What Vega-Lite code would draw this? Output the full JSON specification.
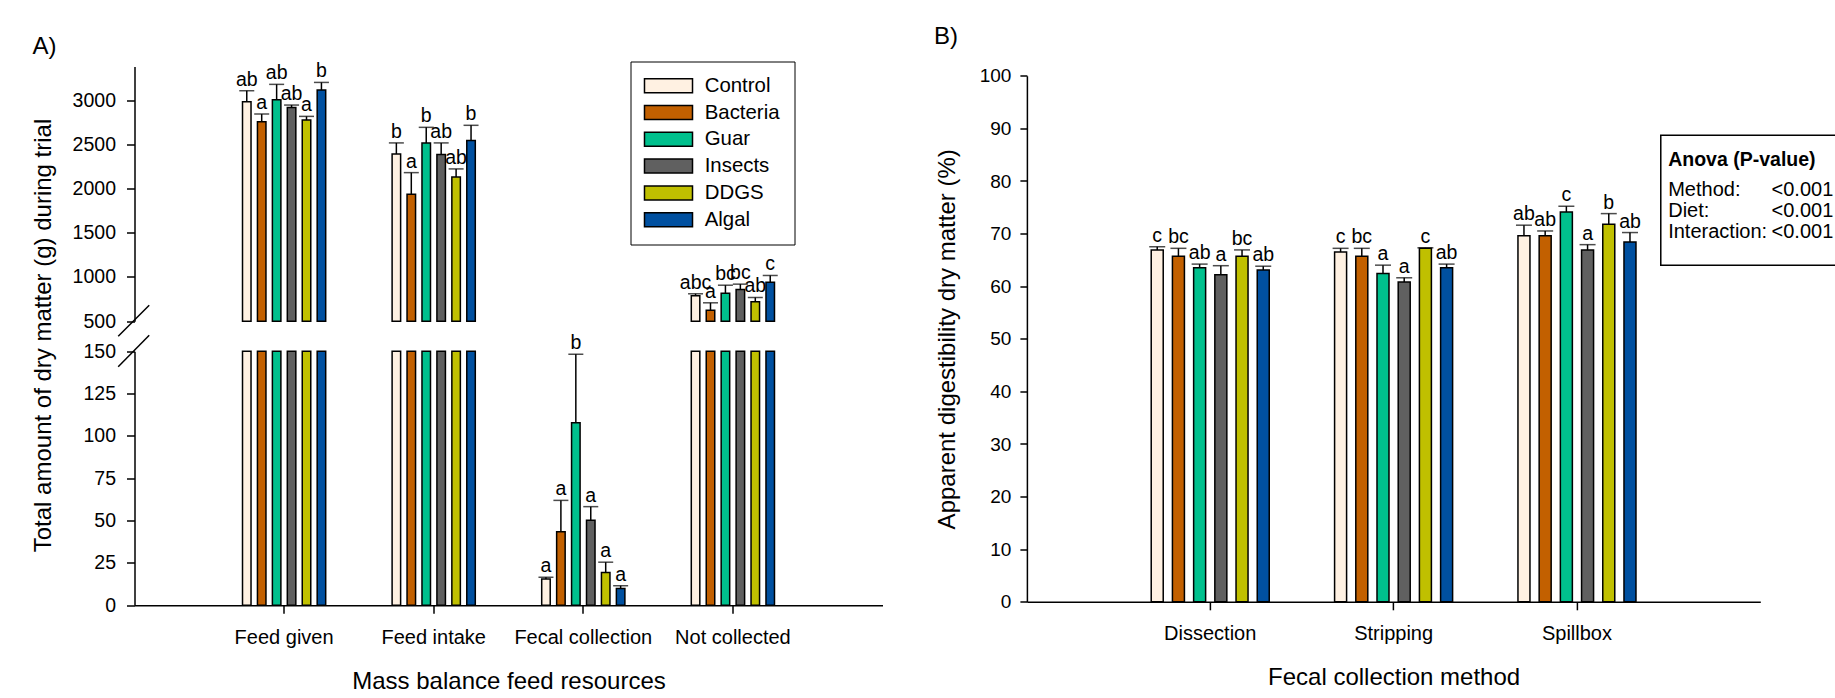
{
  "$schema": "https://vega.github.io/schema/vega-lite/v6.json",
  "padding": {"left": 30.5, "top": 24.5, "right": 0, "bottom": 0},
  "config": {
    "font": "Liberation Sans",
    "view": {"stroke": null},
    "axis": {"domainColor": "#000", "domainWidth": 1.5, "tickColor": "#000", "tickWidth": 1.5, "labelColor": "#000", "titleColor": "#000", "labelFontSize": 19.5, "titleFontSize": 24, "titleFontWeight": "normal", "grid": false},
    "text": {"color": "#000"}
  },
  "datasets": {
    "mass": [
      {"resource": "Feed given", "diet": "Control", "value": 2982, "upper": 3106, "letter": "ab"},
      {"resource": "Feed given", "diet": "Bacteria", "value": 2756, "upper": 2842, "letter": "a"},
      {"resource": "Feed given", "diet": "Guar", "value": 3004, "upper": 3178, "letter": "ab"},
      {"resource": "Feed given", "diet": "Insects", "value": 2917, "upper": 2944, "letter": "ab"},
      {"resource": "Feed given", "diet": "DDGS", "value": 2774, "upper": 2816, "letter": "a"},
      {"resource": "Feed given", "diet": "Algal", "value": 3113, "upper": 3200, "letter": "b"},
      {"resource": "Feed intake", "diet": "Control", "value": 2391, "upper": 2516, "letter": "b"},
      {"resource": "Feed intake", "diet": "Bacteria", "value": 1936, "upper": 2180, "letter": "a"},
      {"resource": "Feed intake", "diet": "Guar", "value": 2516, "upper": 2692, "letter": "b"},
      {"resource": "Feed intake", "diet": "Insects", "value": 2384, "upper": 2516, "letter": "ab"},
      {"resource": "Feed intake", "diet": "DDGS", "value": 2131, "upper": 2222, "letter": "ab"},
      {"resource": "Feed intake", "diet": "Algal", "value": 2542, "upper": 2715, "letter": "b"},
      {"resource": "Fecal collection", "diet": "Control", "value": 15.4, "upper": 16.5, "letter": "a"},
      {"resource": "Fecal collection", "diet": "Bacteria", "value": 43.4, "upper": 61.9, "letter": "a"},
      {"resource": "Fecal collection", "diet": "Guar", "value": 107.8, "upper": 148.2, "letter": "b"},
      {"resource": "Fecal collection", "diet": "Insects", "value": 50.2, "upper": 58.2, "letter": "a"},
      {"resource": "Fecal collection", "diet": "DDGS", "value": 19.3, "upper": 25.4, "letter": "a"},
      {"resource": "Fecal collection", "diet": "Algal", "value": 9.9, "upper": 11.5, "letter": "a"},
      {"resource": "Not collected", "diet": "Control", "value": 787, "upper": 810, "letter": "abc"},
      {"resource": "Not collected", "diet": "Bacteria", "value": 624, "upper": 708, "letter": "a"},
      {"resource": "Not collected", "diet": "Guar", "value": 817, "upper": 907, "letter": "bc"},
      {"resource": "Not collected", "diet": "Insects", "value": 858, "upper": 919, "letter": "bc"},
      {"resource": "Not collected", "diet": "DDGS", "value": 719, "upper": 768, "letter": "ab"},
      {"resource": "Not collected", "diet": "Algal", "value": 941, "upper": 1017, "letter": "c"}
    ],
    "digest": [
      {"method": "Dissection", "diet": "Control", "value": 66.9, "upper": 67.5, "letter": "c"},
      {"method": "Dissection", "diet": "Bacteria", "value": 65.7, "upper": 67.2, "letter": "bc"},
      {"method": "Dissection", "diet": "Guar", "value": 63.5, "upper": 64.2, "letter": "ab"},
      {"method": "Dissection", "diet": "Insects", "value": 62.2, "upper": 63.9, "letter": "a"},
      {"method": "Dissection", "diet": "DDGS", "value": 65.7, "upper": 66.9, "letter": "bc"},
      {"method": "Dissection", "diet": "Algal", "value": 63.1, "upper": 63.8, "letter": "ab"},
      {"method": "Stripping", "diet": "Control", "value": 66.5, "upper": 67.2, "letter": "c"},
      {"method": "Stripping", "diet": "Bacteria", "value": 65.7, "upper": 67.2, "letter": "bc"},
      {"method": "Stripping", "diet": "Guar", "value": 62.4, "upper": 64.0, "letter": "a"},
      {"method": "Stripping", "diet": "Insects", "value": 60.8, "upper": 61.6, "letter": "a"},
      {"method": "Stripping", "diet": "DDGS", "value": 67.2, "upper": 67.3, "letter": "c"},
      {"method": "Stripping", "diet": "Algal", "value": 63.5, "upper": 64.2, "letter": "ab"},
      {"method": "Spillbox", "diet": "Control", "value": 69.6, "upper": 71.6, "letter": "ab"},
      {"method": "Spillbox", "diet": "Bacteria", "value": 69.6, "upper": 70.5, "letter": "ab"},
      {"method": "Spillbox", "diet": "Guar", "value": 74.1, "upper": 75.2, "letter": "c"},
      {"method": "Spillbox", "diet": "Insects", "value": 66.9, "upper": 67.9, "letter": "a"},
      {"method": "Spillbox", "diet": "DDGS", "value": 71.8, "upper": 73.8, "letter": "b"},
      {"method": "Spillbox", "diet": "Algal", "value": 68.4, "upper": 70.2, "letter": "ab"}
    ],
    "anova": [
      {"term": "Method:", "p": "<0.001"},
      {"term": "Diet:", "p": "<0.001"},
      {"term": "Interaction:", "p": "<0.001"}
    ]
  },
  "hconcat": [
    {
      "width": 748, "height": 538.7,
      "title": {"text": "A)", "anchor": "start", "frame": "group", "dx": -102, "fontSize": 24, "fontWeight": "normal", "baseline": "alphabetic", "offset": -16.5},
      "layer": [
        {
          "data": {"name": "mass"},
          "transform": [{"filter": "datum.value >= 500"}],
          "encoding": {
            "x": {"field": "resource", "type": "nominal", "sort": ["Feed given", "Feed intake", "Fecal collection", "Not collected"], "scale": {"domain": ["Feed given", "Feed intake", "Fecal collection", "Not collected"], "paddingInner": 0.4439, "paddingOuter": 0.722}, "axis": null},
            "xOffset": {"field": "diet", "type": "nominal", "sort": ["Control", "Bacteria", "Guar", "Insects", "DDGS", "Algal"], "scale": {"domain": ["Control", "Bacteria", "Guar", "Insects", "DDGS", "Algal"], "paddingInner": 0.43, "paddingOuter": 0}}
          },
          "layer": [
            {
              "mark": {"type": "bar", "stroke": "#000", "strokeWidth": 1.5},
              "encoding": {
                "y": {"field": "value", "type": "quantitative", "scale": {"domain": [500, 3380], "range": [254.7, 0], "nice": false, "zero": false, "clamp": true}, "axis": {"orient": "left", "values": [500, 1000, 1500, 2000, 2500, 3000], "format": "d", "title": null, "tickSize": 8, "labelPadding": 11}},
                "y2": {"datum": 500},
                "color": {"field": "diet", "type": "nominal", "scale": {"domain": ["Control", "Bacteria", "Guar", "Insects", "DDGS", "Algal"], "range": ["#FFF1E2", "#C26000", "#00C08D", "#606060", "#C0C000", "#0050A0"]},
                  "legend": {"title": null, "orient": "none", "legendX": 496, "legendY": -5, "direction": "vertical", "strokeColor": "#000", "fillColor": "#fff", "padding": 14, "symbolType": "M-3.43,-1H3.43V1H-3.43Z", "symbolSize": 196, "symbolStrokeColor": "#000", "symbolStrokeWidth": 1.5, "symbolOpacity": 1, "symbolOffset": 13.8, "labelOffset": 26, "labelFontSize": 20.4, "labelColor": "#000", "rowPadding": 5.8}}
              }
            },
            {"mark": {"type": "rule", "color": "#000", "strokeWidth": 1.5}, "encoding": {"y": {"field": "value", "type": "quantitative"}, "y2": {"field": "upper"}}},
            {"mark": {"type": "tick", "color": "#000", "thickness": 1.5, "size": 15}, "encoding": {"y": {"field": "upper", "type": "quantitative"}}},
            {"mark": {"type": "text", "fontSize": 19.5, "baseline": "alphabetic", "dy": -5}, "encoding": {"y": {"field": "upper", "type": "quantitative"}, "text": {"field": "letter"}}}
          ]
        },
        {
          "data": {"name": "mass"},
          "encoding": {
            "x": {"field": "resource", "type": "nominal", "sort": ["Feed given", "Feed intake", "Fecal collection", "Not collected"], "scale": {"domain": ["Feed given", "Feed intake", "Fecal collection", "Not collected"], "paddingInner": 0.4439, "paddingOuter": 0.722}, "axis": {"title": "Mass balance feed resources", "labelAngle": 0, "tickSize": 8, "labelPadding": 14, "titlePadding": 22, "labelFontSize": 20}},
            "xOffset": {"field": "diet", "type": "nominal", "sort": ["Control", "Bacteria", "Guar", "Insects", "DDGS", "Algal"], "scale": {"domain": ["Control", "Bacteria", "Guar", "Insects", "DDGS", "Algal"], "paddingInner": 0.43, "paddingOuter": 0}}
          },
          "layer": [
            {
              "mark": {"type": "bar", "stroke": "#000", "strokeWidth": 1.5},
              "encoding": {
                "y": {"field": "value", "type": "quantitative", "scale": {"domain": [0, 150], "range": [538.7, 284.7], "nice": false, "clamp": true}, "axis": {"orient": "left", "values": [0, 25, 50, 75, 100, 125, 150], "title": "Total amount of dry matter (g) during trial", "titleX": -84, "titleY": 268.5, "titleBaseline": "alphabetic", "tickSize": 8, "labelPadding": 11}},
                "color": {"field": "diet", "type": "nominal", "scale": {"domain": ["Control", "Bacteria", "Guar", "Insects", "DDGS", "Algal"], "range": ["#FFF1E2", "#C26000", "#00C08D", "#606060", "#C0C000", "#0050A0"]},
                  "legend": {"title": null, "orient": "none", "legendX": 496, "legendY": -5, "direction": "vertical", "strokeColor": "#000", "fillColor": "#fff", "padding": 14, "symbolType": "M-3.43,-1H3.43V1H-3.43Z", "symbolSize": 196, "symbolStrokeColor": "#000", "symbolStrokeWidth": 1.5, "symbolOpacity": 1, "symbolOffset": 13.8, "labelOffset": 26, "labelFontSize": 20.4, "labelColor": "#000", "rowPadding": 5.8}}
              }
            },
            {"transform": [{"filter": "datum.value < 500"}], "mark": {"type": "rule", "color": "#000", "strokeWidth": 1.5}, "encoding": {"y": {"field": "value", "type": "quantitative"}, "y2": {"field": "upper"}}},
            {"transform": [{"filter": "datum.value < 500"}], "mark": {"type": "tick", "color": "#000", "thickness": 1.5, "size": 15}, "encoding": {"y": {"field": "upper", "type": "quantitative"}}},
            {"transform": [{"filter": "datum.value < 500"}], "mark": {"type": "text", "fontSize": 19.5, "baseline": "alphabetic", "dy": -5}, "encoding": {"y": {"field": "upper", "type": "quantitative"}, "text": {"field": "letter"}}}
          ]
        },
        {
          "data": {"values": [{"brk": "axis break"}]},
          "encoding": {
            "x": {"datum": -0.0218, "type": "quantitative", "scale": {"domain": [0, 1], "nice": false, "zero": false}, "axis": null},
            "x2": {"datum": 0.0197}
          },
          "layer": [
            {"mark": {"type": "rule", "color": "#000", "strokeWidth": 1.5}, "encoding": {"y": {"datum": 330, "type": "quantitative", "scale": {"domain": [500, 3380], "range": [254.7, 0], "nice": false, "zero": false}, "axis": null}, "y2": {"datum": 681}}},
            {"mark": {"type": "rule", "color": "#000", "strokeWidth": 1.5}, "encoding": {"y": {"datum": -16, "type": "quantitative"}, "y2": {"datum": 342}}}
          ]
        }
      ],
      "resolve": {"scale": {"x": "independent", "y": "independent", "xOffset": "independent"}}
    },
    {
      "width": 733.4, "height": 535.3,
      "title": {"text": "B)", "anchor": "start", "frame": "group", "dx": -93, "fontSize": 24, "fontWeight": "normal", "baseline": "alphabetic", "offset": -1.7},
      "layer": [
        {
          "data": {"name": "digest"},
          "encoding": {
            "x": {"field": "method", "type": "nominal", "sort": ["Dissection", "Stripping", "Spillbox"], "scale": {"domain": ["Dissection", "Stripping", "Spillbox"], "paddingInner": 0.3564, "paddingOuter": 0.678}, "axis": {"title": "Fecal collection method", "labelAngle": 0, "tickSize": 8, "labelPadding": 14, "titlePadding": 22, "labelFontSize": 20}},
            "xOffset": {"field": "diet", "type": "nominal", "sort": ["Control", "Bacteria", "Guar", "Insects", "DDGS", "Algal"], "scale": {"domain": ["Control", "Bacteria", "Guar", "Insects", "DDGS", "Algal"], "paddingInner": 0.434, "paddingOuter": 0}}
          },
          "layer": [
            {
              "mark": {"type": "bar", "stroke": "#000", "strokeWidth": 1.5},
              "encoding": {
                "y": {"field": "value", "type": "quantitative", "scale": {"domain": [0, 100], "range": [535.3, 9.3], "nice": false}, "axis": {"values": [0, 10, 20, 30, 40, 50, 60, 70, 80, 90, 100], "title": "Apparent digestibility dry matter (%)", "titlePadding": 20, "tickSize": 7, "labelPadding": 9, "labelFontSize": 19}},
                "color": {"field": "diet", "type": "nominal", "scale": {"domain": ["Control", "Bacteria", "Guar", "Insects", "DDGS", "Algal"], "range": ["#FFF1E2", "#C26000", "#00C08D", "#606060", "#C0C000", "#0050A0"]},
                  "legend": {"title": null, "orient": "none", "legendX": 496, "legendY": -5, "direction": "vertical", "strokeColor": "#000", "fillColor": "#fff", "padding": 14, "symbolType": "M-3.43,-1H3.43V1H-3.43Z", "symbolSize": 196, "symbolStrokeColor": "#000", "symbolStrokeWidth": 1.5, "symbolOpacity": 1, "symbolOffset": 13.8, "labelOffset": 26, "labelFontSize": 20.4, "labelColor": "#000", "rowPadding": 5.8}}
              }
            },
            {"mark": {"type": "rule", "color": "#000", "strokeWidth": 1.5}, "encoding": {"y": {"field": "value", "type": "quantitative"}, "y2": {"field": "upper"}}},
            {"mark": {"type": "tick", "color": "#000", "thickness": 1.5, "size": 16}, "encoding": {"y": {"field": "upper", "type": "quantitative"}}},
            {"mark": {"type": "text", "fontSize": 19.5, "baseline": "alphabetic", "dy": -5}, "encoding": {"y": {"field": "upper", "type": "quantitative"}, "text": {"field": "letter"}}}
          ]
        },
        {
          "data": {"values": [{"heading": "Anova (P-value)"}]},
          "layer": [
            {
              "mark": {"type": "rect", "fill": "#fff", "stroke": "#000", "strokeWidth": 1.5},
              "encoding": {
                "x": {"datum": 0.8643, "type": "quantitative", "scale": {"domain": [0, 1], "nice": false, "zero": false}, "axis": null},
                "x2": {"datum": 1.11},
                "y": {"datum": 88.71, "type": "quantitative", "scale": {"domain": [0, 100], "range": [535.3, 9.3], "nice": false}, "axis": null},
                "y2": {"datum": 63.99}
              }
            },
            {
              "mark": {"type": "text", "align": "left", "baseline": "middle", "fontSize": 19.5, "fontWeight": "bold"},
              "encoding": {
                "x": {"datum": 0.8744, "type": "quantitative"},
                "y": {"datum": 83.97, "type": "quantitative"},
                "text": {"field": "heading"}
              }
            }
          ]
        },
        {
          "data": {"name": "anova"},
          "encoding": {
            "y": {"field": "term", "type": "nominal", "scale": {"type": "point", "domain": ["Method:", "Diet:", "Interaction:"], "range": [123.5, 165.7], "padding": 0}, "axis": null}
          },
          "layer": [
            {
              "mark": {"type": "text", "align": "left", "baseline": "middle", "fontSize": 20},
              "encoding": {
                "x": {"datum": 0.8744, "type": "quantitative", "scale": {"domain": [0, 1], "nice": false, "zero": false}, "axis": null},
                "text": {"field": "term"}
              }
            },
            {
              "mark": {"type": "text", "align": "left", "baseline": "middle", "fontSize": 20},
              "encoding": {
                "x": {"datum": 1.0153, "type": "quantitative"},
                "text": {"field": "p"}
              }
            }
          ]
        }
      ],
      "resolve": {"scale": {"x": "independent", "y": "independent", "xOffset": "independent"}}
    }
  ],
  "spacing": 144.4,
  "bounds": "flush"
}
